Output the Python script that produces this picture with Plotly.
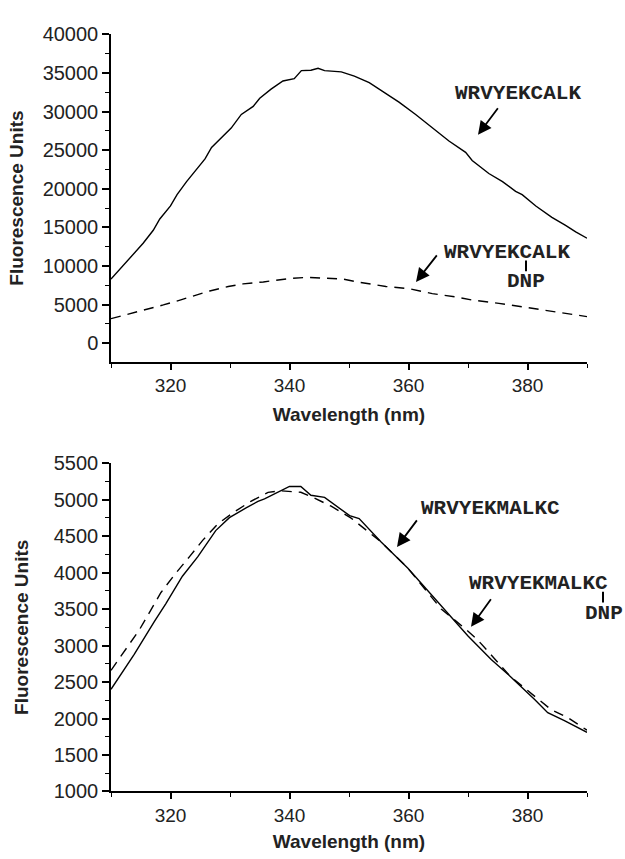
import plotly.graph_objects as go

# ---------------- data ----------------
top_solid_x = [310, 312.9, 315.4, 317.1, 318.2, 320, 321.1, 322.7, 324.4, 325.8, 326.9, 328.8, 330.2,
               331.9, 333.9, 335, 336.9, 338.9, 340.8, 342, 343.6, 344.8, 345.9, 348.7, 350.9, 353.4,
               356.2, 358.4, 361.2, 364, 366.8, 369.6, 370.7, 373.5, 375.8, 378, 379.1, 381.4, 384.1,
               386.4, 388.1, 390]
top_solid_y = [8300, 10850, 12950, 14630, 16100, 17780, 19250, 20930, 22610, 23870, 25350, 26820, 27870,
               29630, 30680, 31730, 32910, 33960, 34260, 35310, 35350, 35600, 35310, 35140, 34590, 33750,
               32280, 31230, 29630, 27870, 26190, 24720, 23670, 21980, 20930, 19670, 19250, 17780, 16310,
               15260, 14420, 13600]

top_dash_x = [310, 313.2, 316, 318.8, 321.6, 324.4, 326.6, 329.7, 332.2, 335.6, 340.3, 343.1, 348.9,
              351.7, 356.2, 360.1, 364, 367.9, 370.7, 375.2, 379.7, 384.1, 390]
top_dash_y = [3190, 3820, 4410, 4960, 5590, 6220, 6770, 7350, 7690, 7940, 8410, 8530, 8320,
              7900, 7350, 7060, 6430, 6010, 5590, 5170, 4670, 4120, 3450]

bot_solid_x = [310, 313.9, 317.3, 319.2, 322.0, 324.6, 327.6, 329.9, 332.7, 334.7, 335.8, 338.3, 340,
               341.9, 343.6, 345.9, 350.1, 351.7, 355.4, 359.9, 363.8, 367.7, 370, 373.9, 377.2, 381.2,
               383.4, 386.2, 390]
bot_solid_y = [2400, 2880, 3330, 3572, 3950, 4218, 4575, 4753, 4886, 4976, 5010, 5110, 5180,
               5180, 5060, 5030, 4780, 4740, 4420, 4060, 3700, 3350, 3130, 2810, 2570, 2260,
               2080, 1970, 1810]

bot_dash_x = [310, 314.8, 318.4, 320.7, 323.2, 325.4, 327.9, 330.5, 333.5, 336.4, 338.6, 341.9, 344.2,
              347, 350.3, 352.6, 355.4, 359.9, 365.5, 369.4, 371.6, 377.2, 384, 386.8, 390]
bot_dash_y = [2660, 3220, 3727, 3973, 4218, 4441, 4663, 4820, 4976, 5100, 5120, 5100, 5020,
              4910, 4750, 4600, 4420, 4060, 3500, 3240, 3080, 2570, 2120, 2010, 1840]

x_title = "Wavelength (nm)"
y_title = "Fluorescence Units"
label_top = "WRVYEKCALK"
label_bot = "WRVYEKMALKC"
label_dnp = "DNP"

# ---------------- layout helpers ----------------
W, H = 625, 859
def px(x):
    return x / W
def py(y):
    return 1 - y / H

fig = go.Figure()
line_w = 1.4
dash = "10px,7px"
fig.add_trace(go.Scatter(x=top_solid_x, y=top_solid_y, mode="lines",
                         line=dict(color="black", width=line_w), xaxis="x", yaxis="y"))
fig.add_trace(go.Scatter(x=top_dash_x, y=top_dash_y, mode="lines",
                         line=dict(color="black", width=line_w, dash=dash), xaxis="x", yaxis="y"))
fig.add_trace(go.Scatter(x=bot_solid_x, y=bot_solid_y, mode="lines",
                         line=dict(color="black", width=line_w), xaxis="x2", yaxis="y2"))
fig.add_trace(go.Scatter(x=bot_dash_x, y=bot_dash_y, mode="lines",
                         line=dict(color="black", width=line_w, dash=dash), xaxis="x2", yaxis="y2"))

ytick_font = dict(family="Liberation Sans, Arial", size=20, color="#222")
xtick_font = dict(family="Liberation Sans, Arial", size=19, color="#222")
title_font = dict(family="Liberation Sans, Arial", size=19, color="#222")

def xaxis_cfg(anchor, standoff):
    return dict(anchor=anchor, domain=[px(111), px(587)], range=[310, 390],
                showgrid=False, zeroline=False, showline=True, linecolor="black", linewidth=1.5,
                ticks="outside", ticklen=6, tickwidth=1.5, tickcolor="black",
                tick0=320, dtick=20, tickfont=xtick_font,
                minor=dict(dtick=10, tick0=310, ticks="outside", ticklen=4, tickwidth=1.2, tickcolor="black"),
                title=dict(text="<b>%s</b>" % x_title, font=title_font, standoff=standoff))

def yaxis_cfg(anchor, dom, rng, dtick, mdtick, tick0, standoff):
    return dict(anchor=anchor, domain=dom, range=rng,
                showgrid=False, zeroline=False, showline=True, linecolor="black", linewidth=1.5,
                ticks="outside", ticklen=7, tickwidth=1.5, tickcolor="black",
                tick0=tick0, dtick=dtick, tickfont=ytick_font, tickformat="d",
                minor=dict(dtick=mdtick, ticks="outside", ticklen=4, tickwidth=1.2, tickcolor="black"),
                title=dict(text="<b>%s</b>" % y_title, font=title_font, standoff=standoff))

fig.update_layout(
    width=W, height=H, autosize=False,
    margin=dict(l=0, r=0, t=0, b=0),
    plot_bgcolor="white", paper_bgcolor="white", showlegend=False,
    xaxis=xaxis_cfg("y", 12),
    yaxis=yaxis_cfg("x", [py(360), py(24)], [-2400, 40000], 5000, 2500, 0, 14),
    xaxis2=xaxis_cfg("y2", 10),
    yaxis2=yaxis_cfg("x2", [py(801), py(464)], [1000, 5500], 500, 250, 1000, 20),
)

ann_font = dict(family="Liberation Mono, Courier New, monospace", size=21, color="#222")
anns = []
def text(x, y, t):
    anns.append(dict(x=px(x), y=py(y), xref="paper", yref="paper", text="<b>%s</b>" % t,
                     showarrow=False, font=ann_font, xanchor="center", yanchor="middle"))
def arrow(tail, tip):
    anns.append(dict(x=px(tip[0]), y=py(tip[1]), xref="paper", yref="paper", text="",
                     showarrow=True, ax=tail[0] - tip[0], ay=tail[1] - tip[1],
                     arrowhead=2, arrowsize=1.5, arrowwidth=1.8, arrowcolor="black", standoff=0))

text(518, 85, label_top)
arrow((499, 99), (478, 127))
text(507, 248, label_top)
text(526, 278, label_dnp)
arrow((438, 250), (416, 278))

text(490, 511, label_bot)
arrow((418, 522), (397, 550))
text(538, 588, label_bot)
text(604, 618, label_dnp)
arrow((492, 603), (471, 632))

fig.update_layout(annotations=anns)

shapes = [
    dict(type="line", xref="paper", yref="paper", x0=px(526), x1=px(526), y0=py(256), y1=py(267),
         line=dict(color="black", width=2)),
    dict(type="line", xref="paper", yref="paper", x0=px(603), x1=px(603), y0=py(596), y1=py(607),
         line=dict(color="black", width=2)),
]
fig.update_layout(shapes=shapes)

fig.write_html("out.html")
